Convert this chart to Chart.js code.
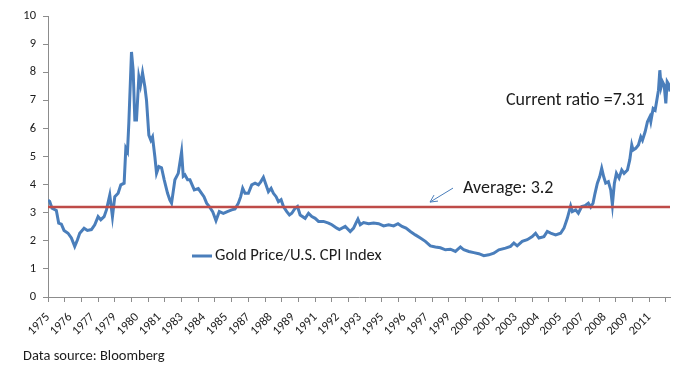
<!DOCTYPE html>
<html>
<head>
<meta charset="utf-8">
<title>Gold Price / U.S. CPI Index</title>
<script src="https://cdn.jsdelivr.net/npm/chart.js@4.4.0/dist/chart.umd.min.js"></script>
<style>
  html, body { margin: 0; padding: 0; background: #fff; }
  #wrap { width: 700px; height: 370px; }
</style>
</head>
<body>
<div id="wrap"><canvas id="goldChart" width="700" height="370"></canvas></div>
<script>
// decimal year of each reading (monthly series)
const dates = [
  1975.00, 1975.10, 1975.24, 1975.50, 1975.64, 1975.80, 1975.96, 1976.20, 1976.40, 1976.60,
  1976.76, 1976.90, 1977.16, 1977.36, 1977.60, 1977.80, 1978.00, 1978.16, 1978.36, 1978.50,
  1978.70, 1978.86, 1979.00, 1979.20, 1979.36, 1979.56, 1979.66, 1979.76, 1979.84, 1980.00,
  1980.10, 1980.20, 1980.30, 1980.44, 1980.54, 1980.66, 1980.80, 1980.90, 1981.04, 1981.16,
  1981.26, 1981.40, 1981.50, 1981.64, 1981.80, 1981.96, 1982.16, 1982.30, 1982.40, 1982.60,
  1982.80, 1983.00, 1983.10, 1983.20, 1983.36, 1983.50, 1983.76, 1984.00, 1984.20, 1984.34,
  1984.50, 1984.66, 1984.86, 1985.06, 1985.26, 1985.50, 1985.74, 1986.00, 1986.20, 1986.40,
  1986.54, 1986.66, 1986.80, 1987.00, 1987.20, 1987.40, 1987.60, 1987.74, 1987.90, 1988.06,
  1988.20, 1988.36, 1988.50, 1988.66, 1988.80, 1988.96, 1989.10, 1989.30, 1989.46, 1989.60,
  1989.80, 1989.94, 1990.10, 1990.40, 1990.60, 1990.80, 1991.00, 1991.20, 1991.50, 1991.80,
  1992.00, 1992.30, 1992.45, 1992.80, 1993.10, 1993.30, 1993.44, 1993.56, 1993.70, 1993.90,
  1994.20, 1994.50, 1994.80, 1995.10, 1995.40, 1995.70, 1995.96, 1996.20, 1996.44, 1996.70,
  1997.00, 1997.30, 1997.60, 1997.90, 1998.20, 1998.50, 1998.80, 1999.10, 1999.40, 1999.70,
  1999.90, 2000.20, 2000.50, 2000.80, 2001.10, 2001.40, 2001.70, 2002.00, 2002.40, 2002.70,
  2002.90, 2003.10, 2003.40, 2003.70, 2004.00, 2004.20, 2004.40, 2004.70, 2004.90, 2005.10,
  2005.40, 2005.70, 2005.90, 2006.10, 2006.30, 2006.40, 2006.60, 2006.76, 2006.96, 2007.16,
  2007.36, 2007.50, 2007.64, 2007.76, 2007.90, 2008.04, 2008.16, 2008.28, 2008.40, 2008.56,
  2008.70, 2008.80, 2008.92, 2009.04, 2009.20, 2009.36, 2009.50, 2009.70, 2009.84, 2009.96,
  2010.04, 2010.20, 2010.36, 2010.50, 2010.60, 2010.76, 2010.90, 2011.04, 2011.10, 2011.24,
  2011.36, 2011.46, 2011.56, 2011.64, 2011.72, 2011.80, 2011.90, 2012.00, 2012.08, 2012.20,
  2012.25
];

const ratio = [
  3.45, 3.40, 3.16, 3.08, 2.63, 2.59, 2.37, 2.27, 2.10, 1.80,
  2.03, 2.27, 2.45, 2.37, 2.40, 2.57, 2.86, 2.75, 2.86, 3.10,
  3.63, 2.86, 3.57, 3.69, 3.99, 4.05, 5.29, 5.17, 6.18, 8.72,
  8.07, 6.30, 6.30, 7.83, 7.54, 7.98, 7.48, 7.00, 5.76, 5.58,
  5.70, 4.99, 4.40, 4.64, 4.60, 4.17, 3.69, 3.45, 3.34, 4.17,
  4.40, 5.17, 4.30, 4.35, 4.17, 4.17, 3.81, 3.86, 3.69, 3.57,
  3.34, 3.22, 3.04, 2.72, 3.04, 2.98, 3.04, 3.10, 3.13, 3.34,
  3.57, 3.87, 3.69, 3.69, 3.99, 4.05, 3.99, 4.10, 4.26, 3.99,
  3.75, 3.87, 3.69, 3.57, 3.39, 3.46, 3.22, 3.04, 2.92, 2.98,
  3.16, 3.22, 2.92, 2.80, 2.98, 2.86, 2.80, 2.69, 2.69, 2.63,
  2.57, 2.45, 2.40, 2.51, 2.33, 2.45, 2.63, 2.77, 2.57, 2.65,
  2.61, 2.63, 2.61, 2.53, 2.57, 2.53, 2.61, 2.51, 2.45, 2.33,
  2.21, 2.10, 1.98, 1.82, 1.78, 1.75, 1.68, 1.70, 1.62, 1.78,
  1.68, 1.62, 1.58, 1.54, 1.47, 1.50, 1.56, 1.68, 1.74, 1.80,
  1.92, 1.82, 1.98, 2.04, 2.15, 2.27, 2.10, 2.15, 2.33, 2.27,
  2.21, 2.27, 2.45, 2.80, 3.24, 3.04, 3.10, 2.98, 3.22, 3.25,
  3.34, 3.20, 3.34, 3.69, 4.05, 4.28, 4.58, 4.28, 4.05, 4.10,
  3.81, 3.28, 4.05, 4.40, 4.23, 4.52, 4.40, 4.52, 4.88, 5.41,
  5.23, 5.29, 5.41, 5.70, 5.58, 5.88, 6.24, 6.41, 6.24, 6.71,
  6.65, 7.00, 7.36, 8.07, 7.48, 7.66, 7.54, 6.89, 7.66, 7.54,
  7.31
];

// category labels shown every 16 months, tick marks every 12 months
const xLabels = [
  '1975', '1976', '1977', '1979', '1980', '1981', '1983', '1984', '1985', '1987',
  '1988', '1989', '1991', '1992', '1993', '1995', '1996', '1997', '1999', '2000',
  '2001', '2003', '2004', '2005', '2007', '2008', '2009', '2011'
];

const averageRatio = 3.2;
const currentRatio = 7.31;
const seriesName = 'Gold Price/U.S. CPI Index';

const FONT = 'Carlito, Lato, sans-serif';
const BLUE = '#4A7EBB';
const RED = '#BE4B48';
const AXIS = '#8C8C8C';
const TEXT = '#1C1C1C';

const points = dates.map((d, i) => ({ x: d, y: ratio[i] }));
const firstYear = dates[0];
const lastDate = dates[dates.length - 1];

const monthOf = v => Math.round((v - firstYear) * 12);

const extras = {
  id: 'extras',
  afterDraw(chart) {
    const { ctx } = chart;
    const yAvg = chart.scales.y.getPixelForValue(averageRatio);
    ctx.save();
    ctx.fillStyle = TEXT;
    ctx.textBaseline = 'middle';
    ctx.textAlign = 'left';

    // average label + arrow
    ctx.font = '18px ' + FONT;
    ctx.fillText('Average: ' + averageRatio, 463, yAvg - 19);
    ctx.strokeStyle = BLUE;
    ctx.lineWidth = 1;
    ctx.beginPath();
    ctx.moveTo(453, yAvg - 19);
    ctx.lineTo(430, yAvg - 5);
    ctx.moveTo(430, yAvg - 5);
    ctx.lineTo(438, yAvg - 6);
    ctx.moveTo(430, yAvg - 5);
    ctx.lineTo(434, yAvg - 12);
    ctx.stroke();

    // current ratio
    ctx.fillText('Current ratio =' + currentRatio, 506, 100);

    // legend
    ctx.strokeStyle = BLUE;
    ctx.lineWidth = 3;
    ctx.beginPath();
    ctx.moveTo(192, 256);
    ctx.lineTo(212, 256);
    ctx.stroke();
    ctx.font = '16.5px ' + FONT;
    ctx.fillText(seriesName, 215, 256);

    // source note
    ctx.font = '14.5px ' + FONT;
    ctx.fillText('Data source: Bloomberg', 23, 356);
    ctx.restore();
  }
};

new Chart(document.getElementById('goldChart'), {
  type: 'line',
  data: {
    datasets: [
      {
        label: seriesName,
        data: points,
        borderColor: BLUE,
        borderWidth: 3,
        pointRadius: 0,
        tension: 0,
        order: 1
      },
      {
        label: 'Average',
        data: [{ x: firstYear, y: averageRatio }, { x: lastDate, y: averageRatio }],
        borderColor: RED,
        borderWidth: 2.5,
        pointRadius: 0,
        order: 0
      }
    ]
  },
  options: {
    responsive: false,
    animation: false,
    layout: { padding: { top: 16, right: 30, bottom: 0, left: 0 } },
    plugins: {
      legend: { display: false },
      tooltip: { enabled: false }
    },
    scales: {
      x: {
        type: 'linear',
        min: firstYear,
        max: lastDate,
        afterFit: scale => { scale.height = 73; },
        afterBuildTicks: scale => {
          const months = new Set();
          for (let m = 0; m <= monthOf(lastDate); m += 12) months.add(m);
          xLabels.forEach((_, i) => months.add(i * 16));
          scale.ticks = [...months].sort((a, b) => a - b).map(m => ({ value: firstYear + m / 12 }));
        },
        border: { color: AXIS, width: 1 },
        grid: {
          drawOnChartArea: false,
          drawTicks: true,
          tickLength: 5,
          tickColor: c => (c.tick && monthOf(c.tick.value) % 12 === 0) ? AXIS : 'rgba(0,0,0,0)'
        },
        ticks: {
          autoSkip: false,
          minRotation: 45,
          maxRotation: 45,
          padding: 8,
          color: TEXT,
          font: { family: FONT, size: 12.5 },
          callback: v => {
            const m = monthOf(v);
            return m % 16 === 0 && xLabels[m / 16] ? xLabels[m / 16] : '';
          }
        }
      },
      y: {
        min: 0,
        max: 10,
        afterFit: scale => { scale.width = 48; },
        border: { color: AXIS, width: 1 },
        grid: {
          drawOnChartArea: false,
          drawTicks: true,
          tickLength: 5,
          tickColor: AXIS
        },
        ticks: {
          stepSize: 1,
          padding: 7,
          color: TEXT,
          font: { family: FONT, size: 12.5 }
        }
      }
    }
  },
  plugins: [extras]
});
</script>
</body>
</html>
